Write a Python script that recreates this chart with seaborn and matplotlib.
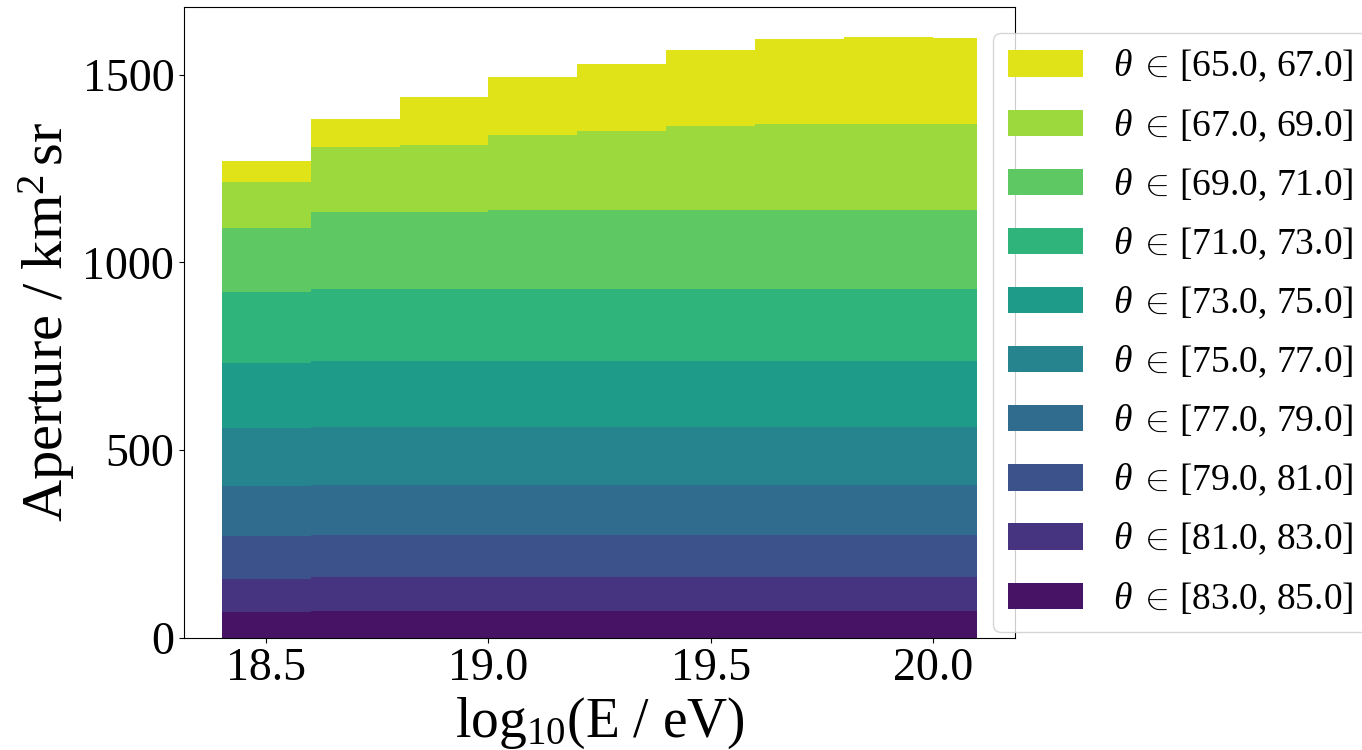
import numpy as np
import pandas as pd
import matplotlib
matplotlib.use("Agg")
import matplotlib.pyplot as plt
from matplotlib.patches import Patch
import seaborn as sns

# energy bin edges, log10(E / eV)
edges = [18.4, 18.6, 18.8, 19.0, 19.2, 19.4, 19.6, 19.8, 20.0, 20.1]

# zenith bands, top of the stack first
theta_bands = ["[65.0, 67.0]", "[67.0, 69.0]", "[69.0, 71.0]", "[71.0, 73.0]",
               "[73.0, 75.0]", "[75.0, 77.0]", "[77.0, 79.0]", "[79.0, 81.0]",
               "[81.0, 83.0]", "[83.0, 85.0]"]

# aperture per band and energy bin, km^2 sr
ap_65_67 = [55, 75, 128, 153, 178, 203, 228, 233, 230]
ap_67_69 = [124, 173, 178, 201, 210, 223, 228, 228, 228]
ap_69_71 = [170, 206, 206, 212, 212, 212, 212, 212, 212]
ap_71_73 = [189, 192, 192, 192, 192, 192, 192, 192, 192]
ap_73_75 = [173, 175, 175, 175, 175, 175, 175, 175, 175]
ap_75_77 = [156, 155, 155, 155, 155, 155, 155, 155, 155]
ap_77_79 = [132, 134, 134, 134, 134, 134, 134, 134, 134]
ap_79_81 = [115, 111, 111, 111, 111, 111, 111, 111, 111]
ap_81_83 = [89, 91, 91, 91, 91, 91, 91, 91, 91]
ap_83_85 = [67, 70, 70, 70, 70, 70, 70, 70, 70]

apertures = [ap_65_67, ap_67_69, ap_69_71, ap_71_73, ap_73_75,
             ap_75_77, ap_77_79, ap_79_81, ap_81_83, ap_83_85]


def build_frame():
    centers = (np.array(edges[:-1]) + np.array(edges[1:])) / 2
    rows = []
    for band, values in zip(theta_bands, apertures):
        for c, v in zip(centers, values):
            rows.append({"logE": c, "theta": band, "aperture": v})
    return pd.DataFrame(rows)


df = build_frame()

plt.rcParams["font.family"] = ["Liberation Serif", "DejaVu Serif"]
plt.rcParams["mathtext.fontset"] = "custom"
plt.rcParams["mathtext.rm"] = "Liberation Serif"
plt.rcParams["mathtext.it"] = "Liberation Serif:italic"

# viridis, yellow on top down to dark purple at the bottom
colors = [plt.cm.viridis(v) for v in np.linspace(0.95, 0.05, len(theta_bands))]
palette = dict(zip(theta_bands, colors))

fig = plt.figure(figsize=(13.62, 7.5), dpi=100)
ax = fig.add_axes([0.1351, 0.15, 0.6101, 0.8407])

sns.histplot(data=df, x="logE", weights="aperture", hue="theta",
             hue_order=theta_bands, multiple="stack", bins=edges,
             palette=palette, alpha=1, linewidth=0, legend=False, ax=ax)

ax.set_xlabel(r"log$_{10}$(E / eV)", fontsize=40)
ax.set_ylabel(r"Aperture / km$^2\,$sr", fontsize=42)
ax.set_xticks([18.5, 19.0, 19.5, 20.0])
ax.set_yticks([0, 500, 1000, 1500])
ax.tick_params(labelsize=33)

handles = [Patch(facecolor=palette[b], label=r"$\theta\;\in\,$" + b) for b in theta_bands]
fig.legend(handles=handles, loc="upper left", bbox_to_anchor=(993 / 1362, 1 - 33 / 750),
           borderaxespad=0, fontsize=27, labelspacing=0.6)

fig.savefig("out.png", dpi=100)
